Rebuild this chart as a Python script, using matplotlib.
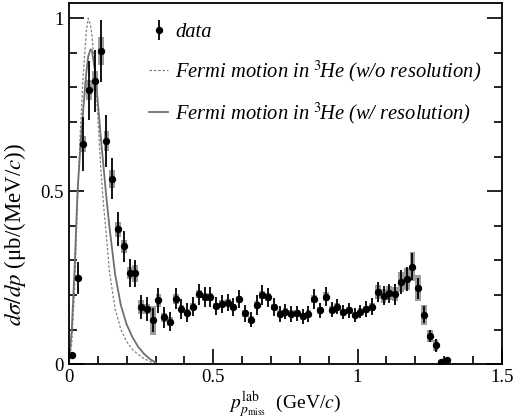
import numpy as np
import matplotlib
matplotlib.use("Agg")
import matplotlib.pyplot as plt
from matplotlib.ticker import MultipleLocator, FixedFormatter, FixedLocator

plt.rcParams['font.family'] = ['Liberation Serif', 'DejaVu Serif']
plt.rcParams['mathtext.fontset'] = 'stix'

# data points (bin centres, GeV/c)
p = [0.01, 0.03, 0.05, 0.07, 0.09, 0.11, 0.13, 0.15, 0.17, 0.19,
     0.21, 0.23, 0.25, 0.27, 0.29, 0.31, 0.33, 0.35, 0.37, 0.39,
     0.41, 0.43, 0.45, 0.47, 0.49, 0.51, 0.53, 0.55, 0.57, 0.59,
     0.61, 0.63, 0.65, 0.67, 0.69, 0.71, 0.73, 0.75, 0.77, 0.79,
     0.81, 0.83, 0.85, 0.87, 0.89, 0.91, 0.93, 0.95, 0.97, 0.99,
     1.01, 1.03, 1.05, 1.07, 1.09, 1.11, 1.13, 1.15, 1.17, 1.19,
     1.21, 1.23, 1.25, 1.27, 1.29, 1.31]
xs = [0.025, 0.249, 0.636, 0.791, 0.819, 0.905, 0.645, 0.536, 0.390, 0.340,
      0.263, 0.262, 0.166, 0.160, 0.127, 0.184, 0.135, 0.123, 0.189, 0.159,
      0.149, 0.166, 0.202, 0.194, 0.194, 0.168, 0.174, 0.178, 0.165, 0.188,
      0.147, 0.128, 0.171, 0.200, 0.193, 0.165, 0.145, 0.151, 0.145, 0.147,
      0.138, 0.145, 0.188, 0.155, 0.195, 0.157, 0.166, 0.150, 0.155, 0.142,
      0.152, 0.159, 0.166, 0.208, 0.198, 0.205, 0.202, 0.237, 0.246, 0.282,
      0.219, 0.143, 0.082, 0.054, 0.006, 0.012]
stat = [0.008, 0.046, 0.078, 0.086, 0.089, 0.090, 0.074, 0.060, 0.050, 0.045,
        0.040, 0.040, 0.035, 0.035, 0.035, 0.035, 0.030, 0.028, 0.030, 0.028,
        0.028, 0.028, 0.030, 0.028, 0.028, 0.025, 0.025, 0.025, 0.025, 0.025,
        0.025, 0.022, 0.028, 0.030, 0.028, 0.025, 0.022, 0.022, 0.022, 0.022,
        0.022, 0.022, 0.028, 0.022, 0.028, 0.022, 0.022, 0.020, 0.022, 0.020,
        0.020, 0.022, 0.025, 0.028, 0.028, 0.028, 0.030, 0.035, 0.035, 0.040,
        0.030, 0.025, 0.018, 0.018, 0.005, 0.008]
syst = [0.005, 0.010, 0.023, 0.029, 0.029, 0.040, 0.028, 0.026, 0.022, 0.020,
        0.018, 0.025, 0.020, 0.015, 0.042, 0.020, 0.012, 0.012, 0.014, 0.012,
        0.010, 0.010, 0.012, 0.012, 0.012, 0.010, 0.010, 0.010, 0.010, 0.010,
        0.010, 0.010, 0.012, 0.012, 0.012, 0.010, 0.010, 0.010, 0.010, 0.010,
        0.010, 0.010, 0.012, 0.010, 0.012, 0.010, 0.010, 0.010, 0.010, 0.010,
        0.010, 0.010, 0.012, 0.020, 0.020, 0.020, 0.020, 0.028, 0.031, 0.042,
        0.038, 0.029, 0.018, 0.015, 0.004, 0.005]

# Fermi motion curves
p_curve = [0.0, 0.01, 0.02, 0.03, 0.04, 0.05, 0.06, 0.067, 0.075, 0.08,
           0.09, 0.10, 0.11, 0.12, 0.13, 0.14, 0.16, 0.18, 0.20, 0.22,
           0.24, 0.26, 0.28, 0.30]
fermi_nores = [0.0, 0.06, 0.22, 0.48, 0.68, 0.84, 0.96, 1.0, 0.98, 0.95,
               0.85, 0.72, 0.57, 0.46, 0.37, 0.27, 0.16, 0.10, 0.065, 0.042,
               0.028, 0.016, 0.008, 0.002]
fermi_res = [0.0, 0.10, 0.28, 0.50, 0.63, 0.74, 0.84, 0.89, 0.91, 0.905,
             0.85, 0.76, 0.66, 0.57, 0.48, 0.40, 0.26, 0.17, 0.115, 0.078,
             0.05, 0.03, 0.015, 0.005]

fig = plt.figure(figsize=(5.30, 4.19), dpi=100)
ax = fig.add_axes([0.13, 0.131, 0.817, 0.862])

p = np.array(p); xs = np.array(xs); syst = np.array(syst)
ax.bar(p, 2 * syst, bottom=xs - syst, width=0.02, color='#9c9c9c', zorder=1)
ax.plot(p_curve, fermi_nores, ls=(0, (2, 1.5)), color='#808080', lw=0.9, zorder=2,
        label='Fermi motion in $^{3}\\!$He (w/o resolution)')
ax.plot(p_curve, fermi_res, ls='-', color='#707070', lw=1.3, zorder=2,
        label='Fermi motion in $^{3}\\!$He (w/ resolution)')
ax.errorbar(p, xs, yerr=stat, fmt='o', color='black', ms=4.3, elinewidth=1.3,
            capsize=0, zorder=3, label='data')

ax.set_xlim(0, 1.5)
ax.set_ylim(0, 1.044)
ax.xaxis.set_major_locator(FixedLocator([0, 0.5, 1.0, 1.5]))
ax.xaxis.set_major_formatter(FixedFormatter(['0', '0.5', '1', '1.5']))
ax.xaxis.set_minor_locator(MultipleLocator(0.1))
ax.yaxis.set_major_locator(FixedLocator([0, 0.5, 1.0]))
ax.yaxis.set_major_formatter(FixedFormatter(['0', '0.5', '1']))
ax.yaxis.set_minor_locator(MultipleLocator(0.1))
ax.tick_params(which='both', direction='in', right=True, top=False, labelsize=13.5, width=1.2)
ax.tick_params(which='major', length=11)
ax.tick_params(which='minor', length=5.5)
for s in ax.spines.values():
    s.set_linewidth(1.3)

ax.set_xlabel(r'$p^{\mathrm{lab}}_{p_{\mathrm{miss}}}$  (GeV/$c$)', fontsize=14, labelpad=2)
ax.set_ylabel(r'$d\sigma/dp$ (μb/(MeV/$c$))', fontsize=16.5)
ax.yaxis.set_label_coords(-0.095, 0.36)

h, l = ax.get_legend_handles_labels()
leg = ax.legend([h[2], h[0], h[1]], [l[2], l[0], l[1]], loc='upper left',
                bbox_to_anchor=(0.143, 0.996), frameon=False, fontsize=14.8,
                labelspacing=0.8, handlelength=0.9, handletextpad=0.35)
for t in leg.get_texts():
    t.set_fontstyle('italic')

fig.savefig('out.png', dpi=100)
